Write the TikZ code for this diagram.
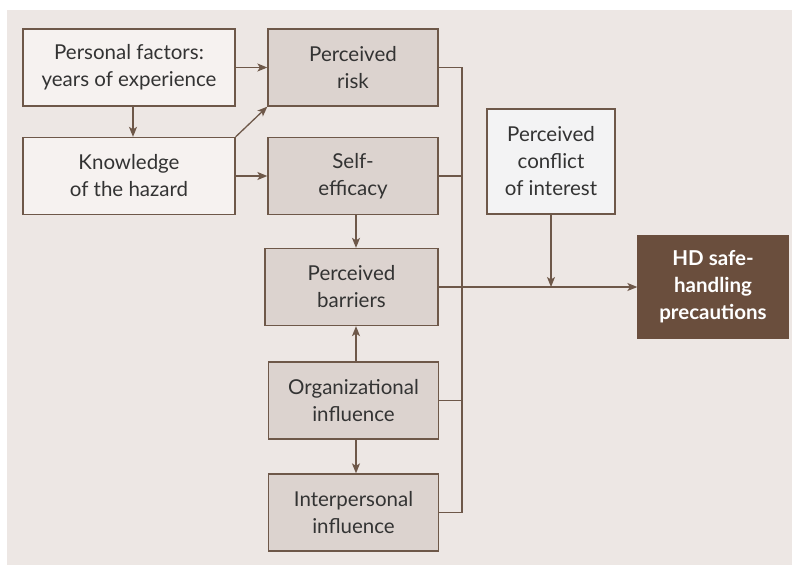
\documentclass[tikz,border=0pt]{standalone}
\usepackage{fontspec}
\setmainfont{Lato}
\usepackage{tikz}
\usetikzlibrary{arrows.meta}

\definecolor{bgcol}{HTML}{EDE7E4}
\definecolor{lightcol}{HTML}{F6F2F0}
\definecolor{midcol}{HTML}{DCD3CF}
\definecolor{conflcol}{HTML}{F3F3F4}
\definecolor{hdcol}{HTML}{6A4E3D}
\definecolor{linecol}{HTML}{6E5849}
\definecolor{textcol}{HTML}{333333}

\begin{document}
\begin{tikzpicture}[
        x=1pt, y=-1pt,
        box/.style={draw=linecol, line width=1.3pt, text=textcol, align=center,
              inner sep=0pt, minimum height=#1,
              font=\fontsize{20.5}{27}\selectfont},
        box/.default=77pt,
        light/.style={box, fill=lightcol, minimum width=212pt},
        mid/.style={box, fill=midcol, minimum width=170pt},
        wire/.style={draw=linecol, line width=1.3pt},
        arr/.style={wire, -{Stealth[length=10pt,width=8pt,inset=2.5pt]}},
    ]
    \useasboundingbox (0,0) rectangle (792,565);
    \fill[bgcol] (7,10) rectangle (792,565);
    % left column
    \node[light] (pers) at (129,67.5) {Personal factors:\\years of experience};
    \node[light] (know) at (129,176) {Knowledge\\of the hazard};
    % middle column
    \node[mid] (risk) at (353,67.5) {Perceived\\risk};
    \node[mid] (self) at (353,176) {Self-\\efficacy};
    \node[mid, minimum width=173pt] (barr) at (351.5,287) {Perceived\\barriers};
    \node[mid] (org) at (353.5,400.5) {Organizational\\influence};
    \node[mid] (inter) at (353.5,512.5) {Interpersonal\\influence};
    % right side
    \node[box=105pt, fill=conflcol, minimum width=128pt] (confl) at (551,161.5) {Perceived\\conflict\\of interest};
    \node[box=102pt, fill=hdcol, draw=hdcol, text=white, minimum width=150pt,
          font=\fontsize{20.5}{27}\selectfont\bfseries] (hd) at (713,287) {HD safe-\\handling\\precautions};
    % arrows
    \draw[arr] (pers.east) -- (risk.west);
    \draw[arr] ([xshift=4pt]pers.south) -- ([xshift=4pt]know.north);
    \draw[arr] (know.north east) -- (risk.south west);
    \draw[arr] (know.east) -- (self.west);
    \draw[arr] ([xshift=3pt]self.south) -- ([xshift=3pt]self.south |- barr.north);
    \draw[arr] ([xshift=2.5pt]org.north) -- ([xshift=2.5pt]org.north |- barr.south);
    \draw[arr] ([xshift=2.5pt]org.south) -- ([xshift=2.5pt]inter.north);
    % bus
    \coordinate (bustop) at (462,67.5);
    \coordinate (busbot) at (462,512.5);
    \draw[wire] (risk.east) -- (bustop) -- (busbot) -- (inter.east);
    \draw[wire] (self.east) -- (self.east -| bustop);
    \draw[wire] (org.east) -- (org.east -| bustop);
    \draw[arr] (barr.east) -- (hd.west);
    \draw[arr] (confl.south) -- (confl.south |- hd.west);
\end{tikzpicture}
\end{document}
